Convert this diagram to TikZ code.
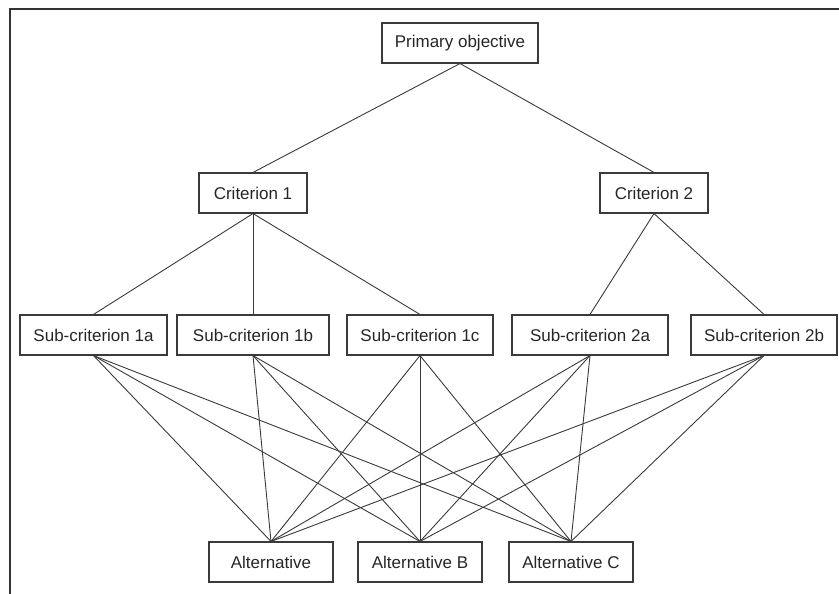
\documentclass[tikz,border=0pt]{standalone}
\usepackage{fontspec}
\setmainfont{Liberation Sans}
\definecolor{framegray}{HTML}{333333}
\definecolor{linegray}{HTML}{3A3A3A}
\tikzset{
    box/.style={draw=linegray, line width=1.1pt, minimum height=40pt, inner sep=0pt, font=\fontsize{17}{20}\selectfont, text=black!85},
    link/.style={draw=linegray, line width=0.9pt}
}
\begin{document}
\begin{tikzpicture}[x=1pt, y=-1pt]
    \useasboundingbox (0,0) rectangle (839,594);
    \draw[framegray, line width=2pt] (10,594) -- (10,9) -- (839,9);

    \node[box, minimum width=156pt] (goal) at (460,43) {Primary objective};
    \node[box, minimum width=108pt] (crit1) at (253,193) {Criterion 1};
    \node[box, minimum width=108pt] (crit2) at (654,193) {Criterion 2};
    \node[box, minimum width=147pt] (sub1a) at (93.5,335) {Sub-criterion 1a};
    \node[box, minimum width=152pt] (sub1b) at (253,335) {Sub-criterion 1b};
    \node[box, minimum width=146pt] (sub1c) at (420,335) {Sub-criterion 1c};
    \node[box, minimum width=156pt] (sub2a) at (590,335) {Sub-criterion 2a};
    \node[box, minimum width=146pt] (sub2b) at (764,335) {Sub-criterion 2b};
    \node[box, minimum width=124pt] (altA) at (271,562) {Alternative};
    \node[box, minimum width=124pt] (altB) at (420,562) {Alternative B};
    \node[box, minimum width=124pt] (altC) at (571,562) {Alternative C};

    \draw[link] (goal.south) -- (crit1.north);
    \draw[link] (goal.south) -- (crit2.north);
    \draw[link] (crit1.south) -- (sub1a.north);
    \draw[link] (crit1.south) -- (sub1b.north);
    \draw[link] (crit1.south) -- (sub1c.north);
    \draw[link] (crit2.south) -- (sub2a.north);
    \draw[link] (crit2.south) -- (sub2b.north);

    \draw[link] (sub1a.south) -- (altA.north);
    \draw[link] (sub1a.south) -- (altB.north);
    \draw[link] (sub1a.south) -- (altC.north);
    \draw[link] (sub1b.south) -- (altA.north);
    \draw[link] (sub1b.south) -- (altB.north);
    \draw[link] (sub1b.south) -- (altC.north);
    \draw[link] (sub1c.south) -- (altA.north);
    \draw[link] (sub1c.south) -- (altB.north);
    \draw[link] (sub1c.south) -- (altC.north);
    \draw[link] (sub2a.south) -- (altA.north);
    \draw[link] (sub2a.south) -- (altB.north);
    \draw[link] (sub2a.south) -- (altC.north);
    \draw[link] (sub2b.south) -- (altA.north);
    \draw[link] (sub2b.south) -- (altB.north);
    \draw[link] (sub2b.south) -- (altC.north);
\end{tikzpicture}
\end{document}
